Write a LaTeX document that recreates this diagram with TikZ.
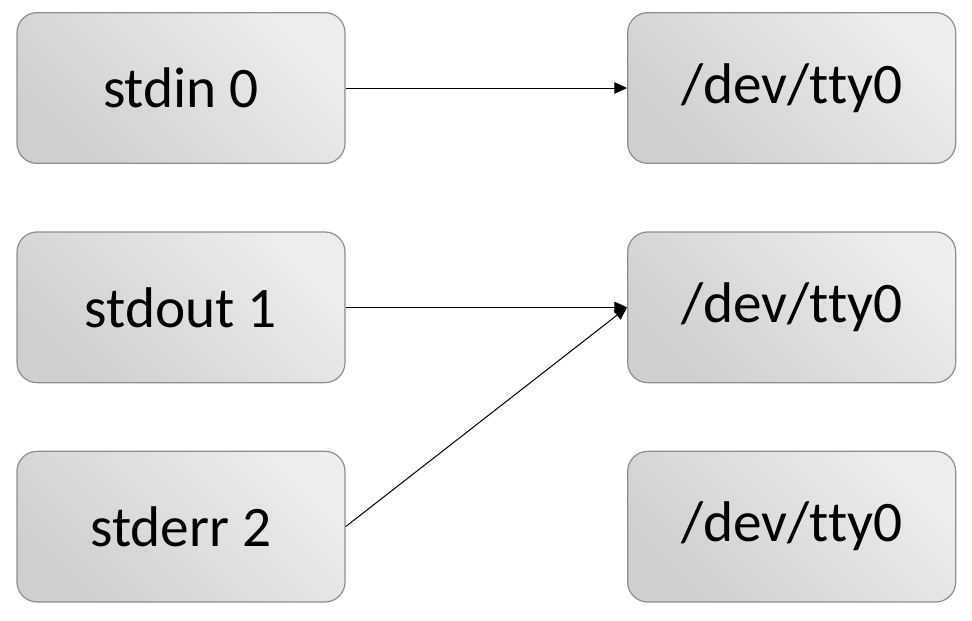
\documentclass[tikz,border=0pt]{standalone}
\usepackage{fontspec}
\setmainfont{Carlito}[Ligatures={NoCommon}]
\usepackage{tikz}
\usetikzlibrary{arrows.meta}

\definecolor{boxlight}{HTML}{EDEDED}
\definecolor{boxdark}{HTML}{CFCFCF}
\definecolor{boxline}{HTML}{8E8E8E}

\tikzset{
	fdbox/.style={draw=boxline, line width=0.9pt, rectangle, rounded corners=15pt,
		top color=boxlight, bottom color=boxdark, shading angle=-45,
		minimum width=246pt, minimum height=113pt, inner sep=0pt,
		font=\fontsize{43}{50}\selectfont},
	link/.style={line width=0.75pt, -{Triangle[length=9.5pt,width=8.5pt]}}
}

\begin{document}
\begin{tikzpicture}[x=0.75pt, y=-0.75pt]
		\useasboundingbox (0,0) rectangle (972,621);
		
		\node[fdbox] at (181,88)(IN){stdin 0};
		\node[fdbox, below of=IN, node distance=164.5pt](OUT){stdout 1};
		\node[fdbox, below of=OUT, node distance=164.5pt](ERR){stderr 2};
		
		\node[fdbox, right of=IN, node distance=458pt](TTY1){/dev/tty0};
		\node[fdbox, right of=OUT, node distance=458pt](TTY2){/dev/tty0};
		\node[fdbox, right of=ERR, node distance=458pt](TTY3){/dev/tty0};
		
		\draw[link] (IN.east) -- (TTY1.west);
		\draw[link] (OUT.east) -- (TTY2.west);
		\draw[link] (ERR.east) -- (TTY2.west);
		\end{tikzpicture}
\end{document}
